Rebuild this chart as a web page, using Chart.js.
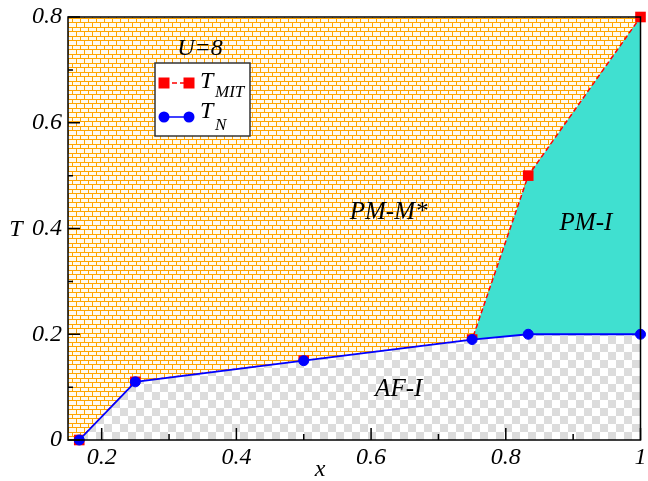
<!DOCTYPE html>
<html>
<head>
<meta charset="utf-8">
<script src="https://cdn.jsdelivr.net/npm/chart.js@4.4.0/dist/chart.umd.min.js"></script>
<style>
  html, body { margin: 0; padding: 0; background: #fff; }
  #wrap { width: 648px; height: 481px; }
</style>
</head>
<body>
<div id="wrap"><canvas id="chart"></canvas></div>
<script>
// phase diagram at U=8
const xN = [0.1667, 0.25, 0.5, 0.75, 0.8333, 1.0]
const tN = [0, 0.11, 0.15, 0.19, 0.2, 0.2]
const xMIT = [0.1667, 0.25, 0.5, 0.75, 0.8333, 1.0]
const tMIT = [0, 0.11, 0.15, 0.19, 0.5, 0.8]

const xTicks = [0.2, 0.4, 0.6, 0.8, 1]
const xMinor = [0.3, 0.5, 0.7, 0.9]
const yTicks = [0, 0.2, 0.4, 0.6, 0.8]
const yMinor = [0.1, 0.3, 0.5, 0.7]

const serif = '"Liberation Serif", "Times New Roman", serif'

// brick pattern for the metallic region
function brickPattern() {
  const c = document.createElement('canvas')
  c.width = 8; c.height = 9
  const g = c.getContext('2d')
  g.fillStyle = '#fffaf0'
  g.fillRect(0, 0, 8, 9)
  g.strokeStyle = '#ffa500'
  g.lineWidth = 1
  g.beginPath()
  g.moveTo(0, 0.5); g.lineTo(8, 0.5)
  g.moveTo(0, 4.5); g.lineTo(8, 4.5)
  g.moveTo(0.5, 0); g.lineTo(0.5, 4.5)
  g.moveTo(4.5, 4.5); g.lineTo(4.5, 9)
  g.stroke()
  return g.createPattern(c, 'repeat')
}

// grey checkerboard for the AF region
function checkerPattern() {
  const c = document.createElement('canvas')
  c.width = 16; c.height = 16
  const g = c.getContext('2d')
  g.fillStyle = '#ffffff'
  g.fillRect(0, 0, 16, 16)
  g.fillStyle = '#dcdcdc'
  g.fillRect(0, 0, 8, 8)
  g.fillRect(8, 8, 8, 8)
  return g.createPattern(c, 'repeat')
}

const fmt = v => (v === 0 ? '0' : v === 1 ? '1' : v.toFixed(1))

const decor = {
  id: 'decor',
  beforeDatasetsDraw(chart) {
    const { ctx, chartArea: a } = chart
    ctx.save()
    ctx.fillStyle = brickPattern()
    ctx.fillRect(a.left, a.top, a.right - a.left, a.bottom - a.top)
    ctx.restore()
  },
  afterDatasetsDraw(chart) {
    const { ctx, chartArea: a, scales } = chart
    const sx = scales.x, sy = scales.y
    ctx.save()
    // frame
    ctx.strokeStyle = '#000'
    ctx.lineWidth = 1.5
    ctx.strokeRect(a.left, a.top, a.right - a.left, a.bottom - a.top)
    // inward ticks
    ctx.lineWidth = 1.5
    ctx.beginPath()
    xTicks.forEach(v => { const p = sx.getPixelForValue(v); ctx.moveTo(p, a.bottom); ctx.lineTo(p, a.bottom - 12) })
    xMinor.forEach(v => { const p = sx.getPixelForValue(v); ctx.moveTo(p, a.bottom); ctx.lineTo(p, a.bottom - 6) })
    yTicks.forEach(v => { const p = sy.getPixelForValue(v); ctx.moveTo(a.left, p); ctx.lineTo(a.left + 12, p) })
    yMinor.forEach(v => { const p = sy.getPixelForValue(v); ctx.moveTo(a.left, p); ctx.lineTo(a.left + 5, p) })
    ctx.stroke()

    // region names
    ctx.fillStyle = '#000'
    ctx.textAlign = 'center'
    ctx.textBaseline = 'alphabetic'
    ctx.font = 'italic 25px ' + serif
    ctx.fillText('PM-M*', sx.getPixelForValue(0.626), sy.getPixelForValue(0.418))
    ctx.fillText('PM-I', sx.getPixelForValue(0.919), sy.getPixelForValue(0.397))
    ctx.fillText('AF-I', sx.getPixelForValue(0.641), sy.getPixelForValue(0.083))
    ctx.restore()
  },
  afterDraw(chart) {
    const { ctx } = chart
    ctx.save()
    ctx.fillStyle = '#000'
    ctx.textBaseline = 'alphabetic'
    ctx.font = 'italic 24px ' + serif
    ctx.textAlign = 'center'
    ctx.fillText('U=8', 200, 55)
    ctx.fillText('x', 320, 476)
    ctx.fillText('T', 16, 236)

    // legend box
    ctx.fillStyle = '#fff'
    ctx.fillRect(155, 63, 95, 73)
    ctx.strokeStyle = '#333'
    ctx.lineWidth = 1.5
    ctx.strokeRect(155, 63, 95, 73)

    // T_MIT sample
    ctx.strokeStyle = '#ff0000'
    ctx.lineWidth = 1.5
    ctx.setLineDash([5, 3])
    ctx.beginPath(); ctx.moveTo(164, 83); ctx.lineTo(189, 83); ctx.stroke()
    ctx.setLineDash([])
    ctx.fillStyle = '#ff0000'
    ctx.fillRect(158.5, 77.5, 11, 11)
    ctx.fillRect(183.5, 77.5, 11, 11)
    // T_N sample
    ctx.strokeStyle = '#0000ff'
    ctx.beginPath(); ctx.moveTo(164, 117); ctx.lineTo(189, 117); ctx.stroke()
    ctx.fillStyle = '#0000ff'
    ctx.beginPath(); ctx.arc(164, 117, 5.5, 0, Math.PI * 2); ctx.fill()
    ctx.beginPath(); ctx.arc(189, 117, 5.5, 0, Math.PI * 2); ctx.fill()

    ctx.fillStyle = '#000'
    ctx.textAlign = 'left'
    ctx.font = 'italic 24px ' + serif
    ctx.fillText('T', 200, 88)
    ctx.fillText('T', 200, 118)
    ctx.font = 'italic 17px ' + serif
    ctx.fillText('MIT', 215, 97)
    ctx.fillText('N', 215, 130)
    ctx.restore()
  }
}

const ctx = document.getElementById('chart').getContext('2d')

new Chart(ctx, {
  type: 'line',
  data: {
    datasets: [
      {
        label: 'T_N',
        data: xN.map((x, i) => ({ x: x, y: tN[i] })),
        borderColor: '#0000ff',
        borderWidth: 1.8,
        pointStyle: 'circle',
        pointRadius: 5,
        pointBackgroundColor: '#0000ff',
        pointBorderColor: '#0000ff',
        pointBorderWidth: 1,
        backgroundColor: checkerPattern(),
        fill: 'origin',
        tension: 0,
        clip: false
      },
      {
        label: 'T_MIT',
        data: xMIT.map((x, i) => ({ x: x, y: tMIT[i] })),
        borderColor: '#ff0000',
        borderWidth: 1.5,
        borderDash: [5, 3],
        pointStyle: 'rect',
        pointRadius: 7.5,
        pointBackgroundColor: '#ff0000',
        pointBorderColor: '#ff0000',
        pointBorderWidth: 0,
        backgroundColor: '#40e0d0',
        fill: { target: '-1', above: '#40e0d0', below: '#40e0d0' },
        tension: 0,
        clip: false
      }
    ]
  },
  options: {
    responsive: true,
    maintainAspectRatio: false,
    animation: false,
    layout: { padding: { top: 17, right: 5, left: 0, bottom: 0 } },
    plugins: {
      legend: { display: false },
      tooltip: { enabled: false }
    },
    scales: {
      x: {
        type: 'linear',
        min: 0.15,
        max: 1,
        grid: { display: false, drawTicks: false },
        border: { display: false },
        afterBuildTicks: s => { s.ticks = xTicks.map(v => ({ value: v })) },
        afterFit: s => { s.height = 41; s.paddingLeft = 0; s.paddingRight = 0 },
        ticks: {
          padding: 3,
          maxRotation: 0,
          autoSkip: false,
          color: '#000',
          font: { family: serif, size: 24, style: 'italic' },
          callback: v => fmt(v)
        }
      },
      y: {
        type: 'linear',
        min: 0,
        max: 0.8,
        grid: { display: false, drawTicks: false },
        border: { display: false },
        afterBuildTicks: s => { s.ticks = yTicks.map(v => ({ value: v })) },
        afterFit: s => { s.width = 68; s.paddingTop = 0; s.paddingBottom = 0 },
        ticks: {
          padding: 6,
          autoSkip: false,
          color: '#000',
          font: { family: serif, size: 24, style: 'italic' },
          callback: v => fmt(v)
        }
      }
    }
  },
  plugins: [decor]
})
</script>
</body>
</html>
